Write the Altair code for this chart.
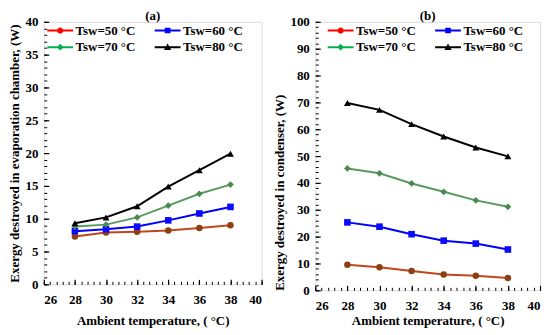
import altair as alt
import pandas as pd

temps = [28, 30, 32, 34, 36, 38]
series = ["50", "60", "70", "80"]

# (a) evaporation chamber
evap_50 = [7.3, 7.9, 8.0, 8.2, 8.6, 9.0]
evap_60 = [8.1, 8.4, 8.8, 9.75, 10.8, 11.8]
evap_70 = [8.8, 9.1, 10.2, 12.0, 13.8, 15.2]
evap_80 = [9.3, 10.2, 11.9, 14.9, 17.4, 19.9]

# (b) condenser
cond_50 = [9.5, 8.6, 7.2, 5.9, 5.4, 4.6]
cond_60 = [25.3, 23.7, 20.9, 18.5, 17.4, 15.2]
cond_70 = [45.4, 43.6, 39.8, 36.7, 33.5, 31.1]
cond_80 = [69.8, 67.2, 61.9, 57.3, 53.2, 49.9]

x_major = [26, 28, 30, 32, 34, 36, 38, 40]
x_minor = [round(26 + 0.4 * i, 1) for i in range(36)]
ya_major = [0, 5, 10, 15, 20, 25, 30, 35, 40]
ya_minor = list(range(0, 41))
yb_major = [0, 10, 20, 30, 40, 50, 60, 70, 80, 90, 100]
yb_minor = list(range(0, 101, 2))

line_colors = ["#c0461c", "#0000ff", "#5a9a5e", "#000000"]
point_colors = ["#8b3f12", "#0a0aff", "#4a8a50", "#000000"]
legend_colors = ["#ff0000", "#0000ff", "#00b050", "#000000"]
shapes = ["circle", "square", "diamond", "triangle-up"]
point_sizes = [42, 48, 46, 60]

legend_paths = [
    "M-2.5,-0.2H2.5V0.2H-2.5Z M0.6,0A0.6,0.6 0 1,1 -0.6,0A0.6,0.6 0 1,1 0.6,0Z",
    "M-2.5,-0.2H2.5V0.2H-2.5Z M-0.55,-0.55H0.55V0.55H-0.55Z",
    "M-2.5,-0.2H2.5V0.2H-2.5Z M0,-0.65L0.65,0L0,0.65L-0.65,0Z",
    "M-2.5,-0.2H2.5V0.2H-2.5Z M0,-0.7L0.7,0.55L-0.7,0.55Z",
]
# legend fills column by column: order so rows read 50,60 / 70,80
legend_order = [0, 2, 1, 3]

FONT = "Liberation Serif"


def make_df(cols):
    rows = []
    for s, vals in zip(series, cols):
        for t, v in zip(temps, vals):
            rows.append({"temp": t, "value": v, "series": s})
    return pd.DataFrame(rows)


def legend_def(lx, ly):
    return alt.Legend(
        orient="none", legendX=lx, legendY=ly, columns=2,
        columnPadding=18, rowPadding=3, padding=0,
        symbolSize=108, symbolStrokeWidth=0, labelOffset=9,
        labelFont=FONT, labelFontSize=13, labelFontWeight="bold",
        labelColor="black", title=None,
        labelExpr="'Tsw=' + datum.label + ' °C'")


def panel(df, title, ytitle, ymax, ymaj, ymin, w, h, lx, ly, ytanchor, xtp):
    xscale = alt.Scale(domain=[26, 40], nice=False, zero=False)
    yscale = alt.Scale(domain=[0, ymax], nice=False)
    base = alt.Chart(df)
    lines = base.mark_line(strokeWidth=2).encode(
        x=alt.X("temp:Q", scale=xscale, axis=alt.Axis(
            values=x_major, orient="bottom", offset=-5, tickSize=5, tickWidth=1.2,
            tickColor="black", domain=False, grid=False,
            labelFont=FONT, labelFontSize=13, labelFontWeight="bold",
            labelColor="black", labelPadding=9,
            title="Ambient temperature, ( °C)", titleFont=FONT,
            titleFontSize=13, titleFontWeight="bold", titleColor="black",
            titlePadding=xtp)),
        y=alt.Y("value:Q", scale=yscale, axis=alt.Axis(
            values=ymaj, orient="left", offset=-5, tickSize=5, tickWidth=1.2,
            tickColor="black", domain=False, grid=False,
            labelFont=FONT, labelFontSize=13, labelFontWeight="bold",
            labelColor="black", labelPadding=6,
            title=ytitle, titleFont=FONT, titleFontSize=13,
            titleFontWeight="bold", titleColor="black", titlePadding=3,
            titleAnchor=ytanchor)),
        color=alt.Color("series:N", scale=alt.Scale(domain=series, range=line_colors), legend=None),
        detail="series:N",
    )
    points = base.mark_point(filled=True, opacity=1).encode(
        x=alt.X("temp:Q", scale=xscale, axis=alt.Axis(
            values=x_minor, orient="bottom", offset=-3, tickSize=3, tickWidth=1,
            tickColor="black", domain=False, grid=False, labels=False, title=None)),
        y=alt.Y("value:Q", scale=yscale, axis=alt.Axis(
            values=ymin, orient="left", offset=-3, tickSize=3, tickWidth=1,
            tickColor="black", domain=False, grid=False, labels=False, title=None)),
        color=alt.Color("series:N", scale=alt.Scale(domain=series, range=point_colors), legend=None),
        shape=alt.Shape("series:N", scale=alt.Scale(domain=series, range=shapes), legend=None),
        size=alt.Size("series:N", scale=alt.Scale(domain=series, range=point_sizes), legend=None),
    )
    ldom = [series[i] for i in legend_order]
    leg = base.mark_point(filled=True, opacity=1).transform_filter("false").encode(
        color=alt.Color("series:N", sort=ldom,
                        scale=alt.Scale(domain=ldom, range=[legend_colors[i] for i in legend_order]),
                        legend=legend_def(lx, ly)),
        shape=alt.Shape("series:N", sort=ldom,
                        scale=alt.Scale(domain=ldom, range=[legend_paths[i] for i in legend_order]),
                        legend=legend_def(lx, ly)),
    )
    return alt.layer(lines, points, leg).resolve_scale(
        color="independent", shape="independent", size="independent"
    ).resolve_axis(x="independent", y="independent").properties(
        width=w, height=h,
        title=alt.TitleParams(title, font=FONT, fontSize=13, fontWeight="bold",
                              color="black", offset=-7, anchor="middle", frame="group"),
    )


pa = panel(make_df([evap_50, evap_60, evap_70, evap_80]), "(a)",
           "Exergy destroyed in evaporation chamber, (W)", 40, ya_major, ya_minor,
           219, 264, 10, 2, "middle", 8)
pb = panel(make_df([cond_50, cond_60, cond_70, cond_80]), "(b)",
           "Exergy destroyed in condenser, (W)", 100, yb_major, yb_minor,
           226, 270, 19, 2, "start", 2)

chart = alt.hconcat(pa, pb, spacing=10).properties(
    padding={"left": 0, "top": 0, "right": 0, "bottom": 0}
).configure_view(stroke="black", strokeWidth=1.5).configure(background="white")

chart.save("out.html", embed_options={"renderer": "svg", "actions": False})
